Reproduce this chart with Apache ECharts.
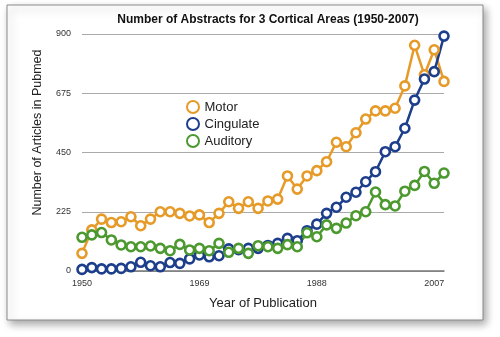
<!DOCTYPE html>
<html><head><meta charset="utf-8">
<script src="https://cdn.jsdelivr.net/npm/echarts@6/dist/echarts.min.js"></script>
<style>html,body{margin:0;padding:0;background:#fff}#c{width:500px;height:337px}</style>
</head><body><div id="c"></div>
<script>
var title = 'Number of Abstracts for 3 Cortical Areas (1950-2007)';
var tickIndex = [0, 12, 24, 36];
var tickLabels = ['1950', '1969', '1988', '2007'];
var motor = [67,156,197,184,187,206,172,197,225,225,219,209,213,184,219,263,238,263,238,266,273,361,311,361,381,415,489,472,525,577,608,608,618,703,857,745,840,720];
var cingulate = [6,13,8,8,10,16,33,20,16,32,29,46,61,54,58,84,81,86,86,97,105,124,115,153,178,219,242,280,299,339,377,453,472,542,649,729,757,892];
var auditory = [128,137,146,118,99,92,92,95,86,77,101,80,86,77,105,71,86,67,96,92,86,100,92,145,130,175,162,182,210,225,300,252,247,303,325,378,333,372];
var categories = motor.map(function(_, i){ return String(i); });

var colors = ['#E69A28', '#1D3E8B', '#4B992F'];
var chart = echarts.init(document.getElementById('c'));
function mk(name, data, color){
  return {name: name, type: 'line', data: data, symbol: 'circle', symbolSize: 9, showAllSymbol: true,
    lineStyle: {color: color, width: 2.5}, itemStyle: {color: '#fff', borderColor: color, borderWidth: 2.6},
    emphasis: {disabled: true}};
}
chart.setOption({
  animation: false,
  graphic: [{type: 'rect', shape: {x: 7, y: 5, width: 476, height: 315}, z: -10,
    style: {fill: '#fff', stroke: '#8a8a8a', lineWidth: 1, shadowBlur: 8, shadowOffsetX: 3, shadowOffsetY: 4, shadowColor: 'rgba(0,0,0,0.35)'}}],
  title: {text: title, left: 263, textAlign: 'center', top: 9,
    textStyle: {fontFamily: 'Liberation Sans', fontWeight: 'bold', fontSize: 12, color: '#111'}},
  legend: {orient: 'vertical', left: 181, top: 95, itemGap: 3, itemWidth: 13, itemHeight: 12,
    icon: 'circle', data: ['Motor', 'Cingulate', 'Auditory'],
    textStyle: {fontFamily: 'Liberation Sans', fontSize: 13, color: '#222'}},
  grid: {left: 82, right: 56, top: 34, bottom: 66},
  xAxis: {type: 'category', data: categories, boundaryGap: false,
    name: 'Year of Publication', nameLocation: 'middle', nameGap: 26,
    nameTextStyle: {fontFamily: 'Liberation Sans', fontSize: 13, color: '#222'},
    axisLine: {show: true, lineStyle: {color: '#777', width: 1.5}},
    axisTick: {show: false},
    axisLabel: {interval: function(i){ return tickIndex.indexOf(i) >= 0; },
      formatter: function(v, i){ var k = tickIndex.indexOf(i); return k >= 0 ? tickLabels[k] : ''; },
      fontFamily: 'Liberation Sans', fontSize: 9, color: '#333', margin: 8}},
  yAxis: {type: 'value', min: 0, max: 900, interval: 225,
    name: 'Number of Articles in Pubmed', nameLocation: 'middle', nameGap: 38, nameRotate: 90,
    nameTextStyle: {fontFamily: 'Liberation Sans', fontSize: 12.5, color: '#222', padding: [0, 0, 0, 40]},
    axisLine: {show: false}, axisTick: {show: false},
    splitLine: {lineStyle: {color: '#aaa', width: 1}},
    axisLabel: {fontFamily: 'Liberation Sans', fontSize: 9, color: '#333', margin: 11}},
  color: colors,
  series: [mk('Motor', motor, colors[0]), mk('Cingulate', cingulate, colors[1]), mk('Auditory', auditory, colors[2])]
});
</script></body></html>
